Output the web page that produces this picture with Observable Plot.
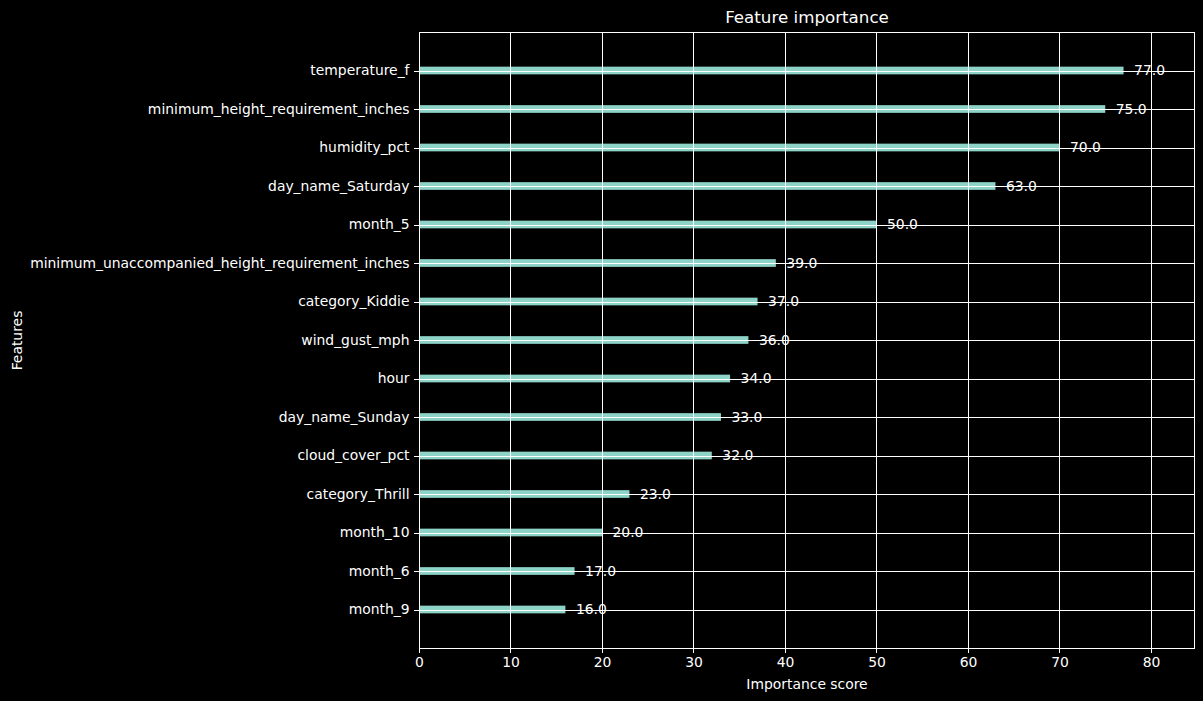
<!DOCTYPE html>
<html>
<head>
<meta charset="utf-8">
<script src="https://cdn.jsdelivr.net/npm/d3@7"></script>
<script src="https://cdn.jsdelivr.net/npm/@observablehq/plot@0.6"></script>
<style>
  html, body { margin: 0; padding: 0; background: #000; }
  #chart svg { display: block; }
</style>
</head>
<body>
<div id="chart"></div>
<script>
const features = [
  "temperature_f",
  "minimum_height_requirement_inches",
  "humidity_pct",
  "day_name_Saturday",
  "month_5",
  "minimum_unaccompanied_height_requirement_inches",
  "category_Kiddie",
  "wind_gust_mph",
  "hour",
  "day_name_Sunday",
  "cloud_cover_pct",
  "category_Thrill",
  "month_10",
  "month_6",
  "month_9"
];
const scores = [77, 75, 70, 63, 50, 39, 37, 36, 34, 33, 32, 23, 20, 17, 16];
const xTicks = [0, 10, 20, 30, 40, 50, 60, 70, 80];

const data = features.map((f, i) => ({feature: f, value: scores[i]}));
const xMax = d3.max(scores) * 1.1;
const fs = 13.9;

const chart = Plot.plot({
  width: 1203,
  height: 701,
  marginLeft: 419,
  marginRight: 9,
  marginTop: 32,
  marginBottom: 53,
  style: {
    background: "#000",
    color: "#fff",
    fontFamily: "DejaVu Sans",
    fontSize: fs + "px"
  },
  x: {domain: [0, xMax]},
  y: {type: "band", domain: features, paddingInner: 0.8, paddingOuter: 0.9, round: false},
  marks: [
    Plot.barX(data, {x: "value", y: "feature", fill: "#8dd3c7"}),
    Plot.gridX(xTicks, {stroke: "#fff", strokeOpacity: 1, strokeWidth: 1, shapeRendering: "crispEdges"}),
    Plot.gridY(features, {stroke: "#fff", strokeOpacity: 1, strokeWidth: 1, shapeRendering: "crispEdges"}),
    Plot.text(data, {
      x: "value", y: "feature",
      text: d => d.value.toFixed(1),
      textAnchor: "start", lineAnchor: "middle", dx: 10, fill: "#fff", fontSize: fs
    }),
    Plot.axisX(xTicks, {tickSize: 5, tickPadding: 4, label: null, fontSize: fs, shapeRendering: "crispEdges"}),
    Plot.axisY({tickSize: 5, tickPadding: 5, label: null, fontSize: fs, shapeRendering: "crispEdges"}),
    Plot.frame({stroke: "#fff", strokeWidth: 1.1, shapeRendering: "crispEdges"}),
    Plot.text(["Feature importance"], {frameAnchor: "top", textAnchor: "middle", lineAnchor: "middle", dy: -15, fontSize: 16.7, fill: "#fff"}),
    Plot.text(["Importance score"], {frameAnchor: "bottom", textAnchor: "middle", lineAnchor: "middle", dy: 36, fontSize: fs, fill: "#fff"}),
    Plot.text(["Features"], {frameAnchor: "left", textAnchor: "middle", lineAnchor: "middle", dx: -402, rotate: -90, fontSize: fs, fill: "#fff"})
  ]
});
document.getElementById("chart").appendChild(chart);
</script>
</body>
</html>
